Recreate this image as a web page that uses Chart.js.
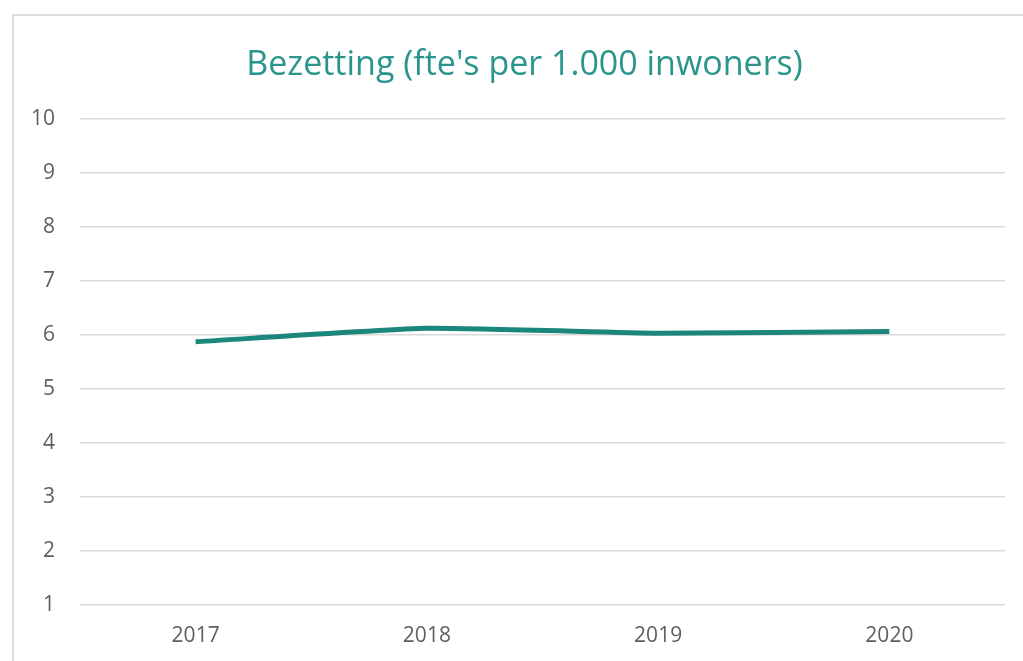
<!DOCTYPE html>
<html>
<head>
<meta charset="utf-8">
<script src="https://cdn.jsdelivr.net/npm/chart.js@4"></script>
<style>
  html, body { margin: 0; padding: 0; background: #ffffff; overflow: hidden; width: 1023px; height: 661px; }
  #box { position: absolute; left: 12px; top: 14px; width: 1040px; height: 680px; border: 2px solid #dcdcdc; background: #fff; }
  #c { display: block; }
</style>
</head>
<body>
<div id="box"><canvas id="c" width="1040" height="680" style="width:1040px;height:680px"></canvas></div>
<script>
const categories = ["2017", "2018", "2019", "2020"];
const fteValues = [5.87, 6.12, 6.03, 6.06];
const yTicks = [1, 2, 3, 4, 5, 6, 7, 8, 9, 10];
const chartTitle = "Bezetting (fte's per 1.000 inwoners)";

const fontFamily = "'Open Sans', Lato, 'Noto Sans', sans-serif";

const titleShift = {
  id: 'titleShift',
  afterLayout(chart) {
    if (chart.titleBlock) { chart.titleBlock.left += 30; }
  }
};

new Chart(document.getElementById('c'), {
  type: 'line',
  data: {
    labels: categories,
    datasets: [{
      label: 'Bezetting',
      data: fteValues,
      borderColor: '#1b867c',
      backgroundColor: '#1b867c',
      borderWidth: 5,
      pointRadius: 0,
      tension: 0.15,
      fill: false
    }]
  },
  options: {
    responsive: false,
    animation: false,
    devicePixelRatio: 1,
    layout: { padding: { left: 0, right: 49, top: 0, bottom: 28 } },
    plugins: {
      legend: { display: false },
      tooltip: { enabled: false },
      title: {
        display: true,
        text: chartTitle,
        color: '#2a968b',
        font: { family: fontFamily, size: 34, weight: 'normal' },
        padding: { top: 29, bottom: 33 }
      }
    },
    scales: {
      x: {
        offset: true,
        grid: { display: false, drawTicks: false },
        border: { display: false },
        ticks: { color: '#5f5f5f', font: { family: fontFamily, size: 21 }, padding: 19 }
      },
      y: {
        min: 1,
        max: 10,
        afterBuildTicks: (axis) => { axis.ticks = yTicks.map(v => ({ value: v })); },
        afterFit: (axis) => { axis.width = 66; },
        grid: { color: '#d9d9d9', lineWidth: 1.5, drawTicks: false },
        border: { display: false },
        ticks: { color: '#5f5f5f', font: { family: fontFamily, size: 21 }, padding: 25 }
      }
    }
  },
  plugins: [titleShift]
});
</script>
</body>
</html>
